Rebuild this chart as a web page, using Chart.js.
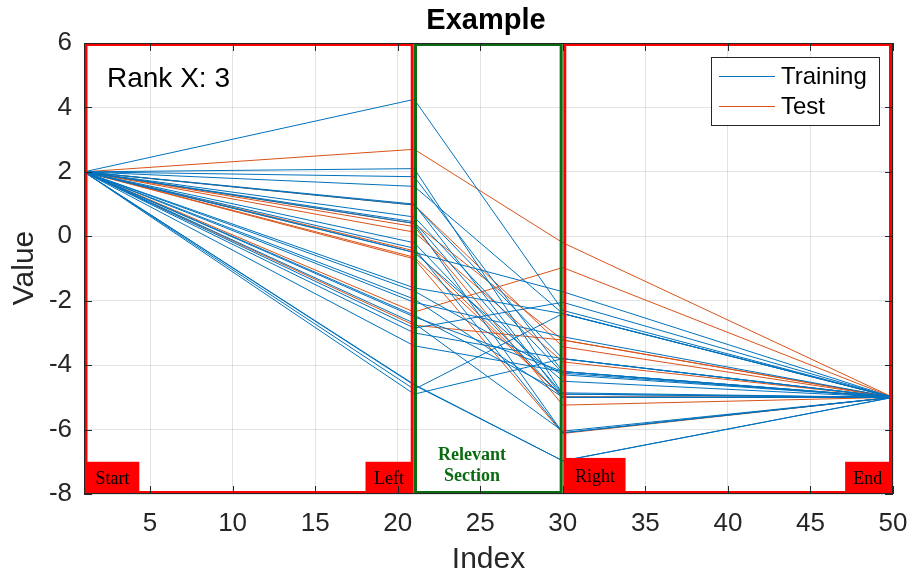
<!DOCTYPE html>
<html>
<head>
<meta charset="utf-8">
<title>Example</title>
<script src="https://cdn.jsdelivr.net/npm/chart.js@4/dist/chart.umd.min.js"></script>
<style>
  html, body { margin: 0; padding: 0; background: #fff; }
  canvas { display: block; }
</style>
</head>
<body>
<canvas id="chart" width="912" height="578"></canvas>
<script>
// every path bends at these x positions
const xKnots = [1, 21, 30, 50];
const startValue = 2;
const endValue = -5;

// path values at x = 21 and x = 30
const trainLeft  = [4.25, 2.1, 1.85, 1.55, 0.97, 1.0, 0.6, 0.45, 0.4, -0.2, -0.37, -0.5, -0.5, -1.6, -1.7, -1.95, -2.05, -2.45, -2.5, -2.7, -2.85, -3.0, -3.4, -4.6, -4.62, -4.75, -4.9];
const trainRight = [-2.3, -4.9, -4.2, -2.4, -3.8, -5.0, -4.25, -4.9, -6.1, -5.0, -6.1, -4.5, -1.72, -2.4, -4.3, -5.0, -3.12, -4.86, -4.2, -6.05, -2.05, -3.8, -4.2, -6.97, -6.97, -2.4, -3.8];
const testLeft  = [2.7, 0.97, 0.4, 0.3, 0.13, -0.45, -0.65, -0.7, -2.35, -2.76];
const testRight = [-0.2, -3.43, -3.22, -5.24, -3.9, -5.0, -4.98, -6.12, -0.97, -3.22];

const xTicks = [5, 10, 15, 20, 25, 30, 35, 40, 45, 50];
const yTicks = [-8, -6, -4, -2, 0, 2, 4, 6];

const trainColor = '#0072BD';
const testColor = '#D95319';
const axisColor = '#262626';
const sans = '"Liberation Sans", Arial, sans-serif';
const serif = '"Liberation Serif", "Times New Roman", serif';

function pathPoints(left, right) {
  return [startValue, left, right, endValue].map((v, i) => ({ x: xKnots[i], y: v }));
}

const datasets = [];
trainLeft.forEach((v, i) => {
  datasets.push({
    label: 'Training',
    data: pathPoints(v, trainRight[i]),
    borderColor: trainColor,
    borderWidth: 1,
    pointRadius: 0,
    tension: 0
  });
});
testLeft.forEach((v, i) => {
  datasets.push({
    label: 'Test',
    data: pathPoints(v, testRight[i]),
    borderColor: testColor,
    borderWidth: 1,
    pointRadius: 0,
    tension: 0
  });
});

// outlined sections and their corner tags
const sections = [
  { x0: 1.12, x1: 20.88, color: '#ff0000' },
  { x0: 21.08, x1: 29.9, color: '#0b6b12' },
  { x0: 30.12, x1: 49.85, color: '#ff0000' }
];
const tags = [
  { text: 'Start', x0: 1.1, x1: 4.35, top: -7.0 },
  { text: 'Left', x0: 18.05, x1: 20.9, top: -7.0 },
  { text: 'Right', x0: 30.1, x1: 33.8, top: -6.88 },
  { text: 'End', x0: 47.1, x1: 49.85, top: -7.0 }
];

const decor = {
  id: 'decor',
  afterDatasetsDraw(chart) {
    const { ctx, chartArea: a, scales: { x, y } } = chart;
    ctx.save();

    // section frames
    ctx.lineWidth = 3;
    sections.forEach(s => {
      ctx.strokeStyle = s.color;
      const l = x.getPixelForValue(s.x0), r = x.getPixelForValue(s.x1);
      ctx.strokeRect(l, a.top + 1.5, r - l, a.bottom - a.top - 3);
    });

    // red tags
    ctx.font = '18px ' + serif;
    ctx.textAlign = 'center';
    ctx.textBaseline = 'middle';
    tags.forEach(t => {
      const l = x.getPixelForValue(t.x0), r = x.getPixelForValue(t.x1);
      const top = y.getPixelForValue(t.top);
      ctx.fillStyle = '#ff0000';
      ctx.fillRect(l, top, r - l, a.bottom - 1 - top);
      ctx.fillStyle = '#000';
      ctx.fillText(t.text, (l + r) / 2, (top + a.bottom) / 2 + 1);
    });

    // middle section caption
    ctx.fillStyle = '#0b6b12';
    ctx.font = 'bold 18px ' + serif;
    const cx = x.getPixelForValue(24.5);
    ctx.fillText('Relevant', cx, 455);
    ctx.fillText('Section', cx, 476);

    // annotation
    ctx.fillStyle = '#000';
    ctx.font = '28px ' + sans;
    ctx.textAlign = 'left';
    ctx.fillText('Rank X: 3', 107, 79);

    ctx.restore();
  },
  afterDraw(chart) {
    const { ctx, chartArea: a, scales: { x, y } } = chart;
    ctx.save();

    // axes box and inward ticks
    ctx.strokeStyle = axisColor;
    ctx.lineWidth = 1;
    ctx.strokeRect(a.left + 0.5, a.top + 0.5, a.right - a.left - 1, a.bottom - a.top - 1);
    ctx.beginPath();
    xTicks.forEach(v => {
      const px = Math.round(x.getPixelForValue(v)) + 0.5;
      ctx.moveTo(px, a.bottom); ctx.lineTo(px, a.bottom - 8);
      ctx.moveTo(px, a.top); ctx.lineTo(px, a.top + 8);
    });
    yTicks.forEach(v => {
      const py = Math.round(y.getPixelForValue(v)) + 0.5;
      ctx.moveTo(a.left, py); ctx.lineTo(a.left + 8, py);
      ctx.moveTo(a.right, py); ctx.lineTo(a.right - 8, py);
    });
    ctx.stroke();

    // legend
    const lx = 711, ly = 57, lw = 168, lh = 68;
    ctx.fillStyle = '#fff';
    ctx.fillRect(lx, ly, lw, lh);
    ctx.strokeStyle = axisColor;
    ctx.strokeRect(lx + 0.5, ly + 0.5, lw, lh);
    [['Training', trainColor, 76], ['Test', testColor, 106]].forEach(([txt, col, yy]) => {
      ctx.strokeStyle = col;
      ctx.beginPath();
      ctx.moveTo(719, yy + 0.5); ctx.lineTo(775, yy + 0.5);
      ctx.stroke();
      ctx.fillStyle = '#000';
      ctx.font = '24px ' + sans;
      ctx.textAlign = 'left';
      ctx.textBaseline = 'middle';
      ctx.fillText(txt, 781, yy + 1);
    });

    // title and axis labels
    ctx.fillStyle = '#000';
    ctx.textAlign = 'center';
    ctx.textBaseline = 'middle';
    ctx.font = 'bold 29px ' + sans;
    ctx.fillText('Example', 486, 21);
    ctx.fillStyle = axisColor;
    ctx.font = '30px ' + sans;
    ctx.fillText('Index', (a.left + a.right) / 2, 560);
    ctx.translate(25, 268);
    ctx.rotate(-Math.PI / 2);
    ctx.fillText('Value', 0, 0);

    ctx.restore();
  }
};

new Chart(document.getElementById('chart'), {
  type: 'line',
  data: { datasets },
  options: {
    responsive: false,
    animation: false,
    layout: { padding: { top: 43, right: 19, left: 0, bottom: 0 } },
    plugins: { legend: { display: false }, tooltip: { enabled: false } },
    scales: {
      x: {
        type: 'linear',
        min: 1,
        max: 50,
        afterBuildTicks: s => { s.ticks = xTicks.map(v => ({ value: v })); },
        afterFit: s => { s.height = 84; s.paddingLeft = 0; s.paddingRight = 0; },
        grid: { color: 'rgba(38,38,38,0.13)', drawTicks: false },
        border: { display: false },
        ticks: {
          padding: 14,
          color: axisColor,
          font: { size: 26, family: sans },
          maxRotation: 0
        }
      },
      y: {
        type: 'linear',
        min: -8,
        max: 6,
        afterBuildTicks: s => { s.ticks = yTicks.map(v => ({ value: v })); },
        afterFit: s => { s.width = 84; s.paddingTop = 0; s.paddingBottom = 0; },
        grid: { color: 'rgba(38,38,38,0.13)', drawTicks: false },
        border: { display: false },
        ticks: {
          padding: 12,
          color: axisColor,
          font: { size: 26, family: sans }
        }
      }
    }
  },
  plugins: [decor]
});
</script>
</body>
</html>
